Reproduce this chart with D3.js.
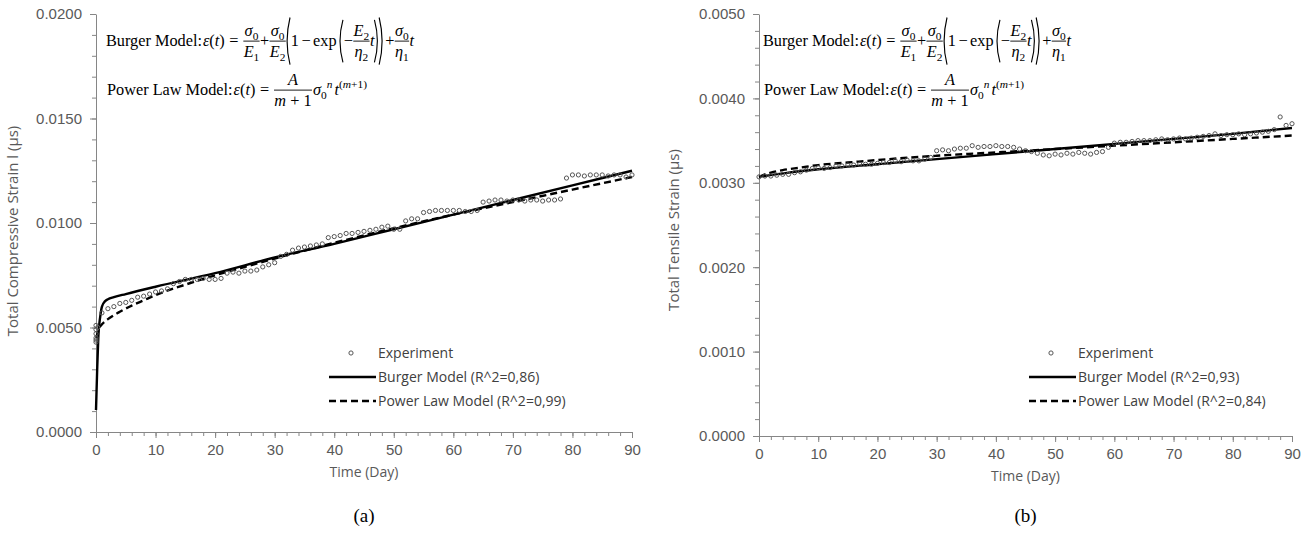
<!DOCTYPE html>
<html>
<head>
<meta charset="utf-8">
<script src="https://cdn.jsdelivr.net/npm/d3@7"></script>
<style>
body { margin: 0; background: #fff; }
</style>
</head>
<body>
<svg id="chart" width="1301" height="535"></svg>
<script>
// ---- data (strain values) ----
let xTicks = [0, 10, 20, 30, 40, 50, 60, 70, 80, 90];
let yTicksA = [0, 0.005, 0.010, 0.015, 0.020];
let yTicksB = [0, 0.001, 0.002, 0.003, 0.004, 0.005];

let expDaysA = [0, 0, 0, 0, 0, 0, 0.3,
  1, 2, 3, 4, 5, 6, 7, 8, 9, 10, 11, 12, 13, 14, 15, 16, 17, 18, 19, 20,
  21, 22, 23, 24, 25, 26, 27, 28, 29, 30, 31, 32, 33, 34, 35, 36, 37, 38, 39, 40,
  41, 42, 43, 44, 45, 46, 47, 48, 49, 50, 51, 52, 53, 54, 55, 56, 57, 58, 59, 60,
  61, 62, 63, 64, 65, 66, 67, 68, 69, 70, 71, 72, 73, 74, 75, 76, 77, 78, 79, 80,
  81, 82, 83, 84, 85, 86, 87, 88, 89, 90];
let expValsA = [0.00430, 0.00450, 0.00470, 0.00490, 0.00510, 0.00440, 0.00500,
  0.00570, 0.00590, 0.00600, 0.00615, 0.00620, 0.00630, 0.00645, 0.00650, 0.00660, 0.00670,
  0.00675, 0.00685, 0.00710, 0.00720, 0.00730, 0.00730, 0.00730, 0.00735, 0.00730, 0.00730,
  0.00735, 0.00760, 0.00765, 0.00760, 0.00770, 0.00770, 0.00775, 0.00790, 0.00800, 0.00810,
  0.00840, 0.00850, 0.00870, 0.00880, 0.00885, 0.00890, 0.00895, 0.00900, 0.00930, 0.00935,
  0.00940, 0.00950, 0.00950, 0.00955, 0.00960, 0.00965, 0.00970, 0.00980, 0.00985, 0.00970,
  0.00970, 0.01010, 0.01020, 0.01020, 0.01050, 0.01055, 0.01060, 0.01060, 0.01060, 0.01060,
  0.01060, 0.01055, 0.01055, 0.01060, 0.01100, 0.01105, 0.01110, 0.01110, 0.01105, 0.01110,
  0.01110, 0.01105, 0.01110, 0.01110, 0.01105, 0.01110, 0.01110, 0.01115, 0.01215, 0.01230,
  0.01230, 0.01225, 0.01230, 0.01230, 0.01230, 0.01225, 0.01230, 0.01230, 0.01220, 0.01230];

let burgerDaysA = [0, 0.2, 0.4, 0.7, 1, 1.5, 2, 3, 5, 10, 20, 30, 40, 50, 60, 70, 80, 90];
let burgerValsA = [0.00105, 0.00300, 0.00460, 0.00550, 0.00600, 0.00625, 0.00635, 0.00645, 0.00660,
  0.00695, 0.00760, 0.00835, 0.00900, 0.00970, 0.01040, 0.01110, 0.01180, 0.01250];

let powerDaysA = [0.05, 0.5, 1, 2, 4, 6, 8, 10, 15, 20, 25, 30, 40, 50, 60, 70, 80, 90];
let powerValsA = [0.00450, 0.00495, 0.00515, 0.00540, 0.00575, 0.00605, 0.00630, 0.00655, 0.00705,
  0.00750, 0.00790, 0.00830, 0.00905, 0.00975, 0.01040, 0.01100, 0.01160, 0.01220];

let expDaysB = [0, 1, 2, 3, 4, 5, 6, 7, 8, 9, 10, 11, 12, 13, 14, 15, 16, 17, 18, 19, 20,
  21, 22, 23, 24, 25, 26, 27, 28, 29, 30, 31, 32, 33, 34, 35, 36, 37, 38, 39, 40,
  41, 42, 43, 44, 45, 46, 47, 48, 49, 50, 51, 52, 53, 54, 55, 56, 57, 58, 59, 60,
  61, 62, 63, 64, 65, 66, 67, 68, 69, 70, 71, 72, 73, 74, 75, 76, 77, 78, 79, 80,
  81, 82, 83, 84, 85, 86, 87, 88, 89, 90];
let expValsB = [0.00307, 0.00308, 0.00308, 0.00309, 0.00310, 0.00310, 0.00312, 0.00313, 0.00315, 0.00317, 0.00318,
  0.00317, 0.00318, 0.00320, 0.00320, 0.00321, 0.00321, 0.00322, 0.00322, 0.00322, 0.00323,
  0.00324, 0.00324, 0.00326, 0.00325, 0.00327, 0.00326, 0.00326, 0.00328, 0.00330, 0.00338,
  0.00339, 0.00338, 0.00340, 0.00341, 0.00341, 0.00344, 0.00342, 0.00343, 0.00343, 0.00344,
  0.00343, 0.00343, 0.00342, 0.00340, 0.00338, 0.00337, 0.00335, 0.00333, 0.00332, 0.00334,
  0.00333, 0.00335, 0.00334, 0.00336, 0.00335, 0.00334, 0.00336, 0.00337, 0.00342, 0.00347,
  0.00348, 0.00348, 0.00349, 0.00350, 0.00350, 0.00350, 0.00351, 0.00352, 0.00351, 0.00352,
  0.00353, 0.00352, 0.00353, 0.00354, 0.00355, 0.00356, 0.00358, 0.00356, 0.00357, 0.00357,
  0.00358, 0.00357, 0.00358, 0.00359, 0.00360, 0.00361, 0.00363, 0.00378, 0.00368, 0.00370];

let burgerDaysB = [0, 5, 10, 20, 30, 40, 50, 60, 70, 80, 90];
let burgerValsB = [0.00307, 0.00312, 0.00316, 0.00322, 0.00328, 0.00334, 0.00340, 0.00346, 0.00352, 0.00358, 0.00365];

let powerDaysB = [0, 1, 2, 4, 7, 10, 15, 20, 30, 40, 50, 60, 70, 80, 90];
let powerValsB = [0.00307, 0.00310, 0.00312, 0.00315, 0.00318, 0.00321, 0.00324, 0.00327,
  0.00332, 0.00336, 0.00340, 0.00344, 0.00348, 0.00352, 0.00356];

let legendA = ["Experiment", "Burger Model (R^2=0,86)", "Power Law Model (R^2=0,99)"];
let legendB = ["Experiment", "Burger Model (R^2=0,93)", "Power Law Model (R^2=0,84)"];

// ---- drawing ----
const svg = d3.select("#chart");
const AXIS = "#868686", LABEL = "#595959";
const SANS = '"Liberation Sans", Arial, sans-serif';
const TITLE = '"Open Sans", sans-serif';
const SERIF = '"Liberation Serif", "Times New Roman", serif';

function zip(a, b) { return a.map((d, i) => [d, b[i]]); }

function drawPanel(p) {
  const x = d3.scaleLinear().domain([0, 90]).range([p.x0, p.x1]);
  const y = d3.scaleLinear().domain([0, p.yMax]).range([p.yb, p.yt]);
  const g = svg.append("g");

  // minor ticks
  g.append("g").attr("transform", `translate(0,${p.yb})`)
    .call(d3.axisBottom(x).tickValues(d3.range(0, 91, 2)).tickSize(4).tickFormat(""))
    .call(a => a.select(".domain").remove());
  g.append("g").attr("transform", `translate(${p.x0},0)`)
    .call(d3.axisLeft(y).tickValues(d3.range(0, p.yMax + 1e-9, p.yMinor)).tickSize(4).tickFormat(""))
    .call(a => a.select(".domain").remove());

  const xa = g.append("g").attr("transform", `translate(0,${p.yb})`)
    .call(d3.axisBottom(x).tickValues(xTicks).tickSize(6).tickSizeOuter(0).tickPadding(6));
  const ya = g.append("g").attr("transform", `translate(${p.x0},0)`)
    .call(d3.axisLeft(y).tickValues(p.yTicks).tickSize(6).tickSizeOuter(0).tickPadding(8)
      .tickFormat(d3.format(".4f")));
  [xa, ya].forEach(a => {
    a.attr("font-family", SANS).attr("font-size", 15);
    a.selectAll("text").attr("fill", LABEL);
  });
  g.selectAll(".domain, .tick line").attr("stroke", AXIS);

  // axis titles
  g.append("text").attr("x", (p.x0 + p.x1) / 2).attr("y", p.yb + 45)
    .attr("text-anchor", "middle").attr("font-family", TITLE).attr("font-size", 14)
    .attr("fill", LABEL).text("Time (Day)");
  g.append("text").attr("transform", `translate(${p.ytx},${p.yty}) rotate(-90)`)
    .attr("text-anchor", "middle").attr("font-family", TITLE).attr("font-size", 15)
    .attr("fill", LABEL).text(p.yTitle);
  g.append("text").attr("x", (p.x0 + p.x1) / 2).attr("y", 522)
    .attr("text-anchor", "middle").attr("font-family", SERIF).attr("font-size", 19)
    .attr("fill", "#000").text(p.tag);

  // series
  const line = d3.line().x(d => x(d[0])).y(d => y(d[1])).curve(d3.curveMonotoneX);
  g.append("path").datum(zip(p.powerD, p.powerV)).attr("d", line)
    .attr("fill", "none").attr("stroke", "#000").attr("stroke-width", 2.4).attr("stroke-dasharray", "7,4");
  g.append("path").datum(zip(p.burgerD, p.burgerV)).attr("d", line)
    .attr("fill", "none").attr("stroke", "#000").attr("stroke-width", 2.4);
  g.append("g").selectAll("circle").data(zip(p.expD, p.expV)).join("circle")
    .attr("cx", d => x(d[0])).attr("cy", d => y(d[1])).attr("r", 2.1)
    .attr("fill", "none").attr("stroke", "#555").attr("stroke-width", 1);

  // legend
  const lg = g.append("g").attr("font-family", TITLE).attr("font-size", 14).attr("fill", "#404040");
  p.legend.forEach((t, i) => {
    const ly = p.ly + i * 24;
    lg.append("text").attr("x", p.lx).attr("y", ly + 5).text(t);
    if (i === 0) {
      lg.append("circle").attr("cx", p.lx - 27).attr("cy", ly).attr("r", 2.1)
        .attr("fill", "none").attr("stroke", "#555");
    } else {
      lg.append("line").attr("x1", p.lx - 49).attr("x2", p.lx - 2).attr("y1", ly).attr("y2", ly)
        .attr("stroke", "#000").attr("stroke-width", 2.4)
        .attr("stroke-dasharray", i === 2 ? "7,4" : null);
    }
  });
}

drawPanel({x0: 96, x1: 632, yb: 432, yt: 14, yMax: 0.02, yMinor: 0.001, yTicks: yTicksA,
  yTitle: "Total Compressive Strain l  (\u00b5s)", ytx: 18, yty: 231, tag: "(a)",
  expD: expDaysA, expV: expValsA, burgerD: burgerDaysA, burgerV: burgerValsA,
  powerD: powerDaysA, powerV: powerValsA, legend: legendA, lx: 378, ly: 353});
drawPanel({x0: 759, x1: 1292, yb: 436, yt: 14, yMax: 0.005, yMinor: 0.0002, yTicks: yTicksB,
  yTitle: "Total Tensile Strain (\u00b5s)", ytx: 679, yty: 230, tag: "(b)",
  expD: expDaysB, expV: expValsB, burgerD: burgerDaysB, burgerV: burgerValsB,
  powerD: powerDaysB, powerV: powerValsB, legend: legendB, lx: 1078, ly: 353});

// ---- equations ----
function run(g, x, y, parts, fs) {
  const t = g.append("text").attr("x", x).attr("y", y)
    .attr("font-family", SERIF).attr("font-size", fs).attr("fill", "#000");
  let shift = 0;
  parts.forEach(p => {
    const s = t.append("tspan").text(p[0]);
    const f = p[1] || "";
    if (f.includes("i")) s.attr("font-style", "italic");
    let target = 0;
    if (f.includes("b")) { target = fs * 0.25; s.attr("font-size", fs * 0.7); }
    if (f.includes("p")) { target = -fs * 0.42; s.attr("font-size", fs * 0.7); }
    s.attr("dy", target - shift);
    shift = target;
  });
  return t.node().getComputedTextLength();
}

function frac(g, x, y, num, den, fs) {
  const axis = y - fs * 0.3;
  const gn = g.append("g"), gd = g.append("g");
  const wn = run(gn, 0, axis - fs * 0.3, num, fs);
  const wd = run(gd, 0, axis + fs * 1.0, den, fs);
  const w = Math.max(wn, wd) + fs * 0.08;
  gn.attr("transform", `translate(${x + (w - wn) / 2},0)`);
  gd.attr("transform", `translate(${x + (w - wd) / 2},0)`);
  g.append("line").attr("x1", x + fs * 0.02).attr("x2", x + w - fs * 0.02)
    .attr("y1", axis).attr("y2", axis).attr("stroke", "#000").attr("stroke-width", fs * 0.055);
  return w;
}

function paren(g, x, y, fs, h, open) {
  const axis = y - fs * 0.3, w = fs * 0.24;
  const top = axis - h / 2, bot = axis + h / 2;
  const d = open
    ? `M${x + w},${top} Q${x - w * 0.5},${axis} ${x + w},${bot}`
    : `M${x},${top} Q${x + w * 1.5},${axis} ${x},${bot}`;
  g.append("path").attr("d", d).attr("fill", "none").attr("stroke", "#000").attr("stroke-width", fs * 0.07);
  return w + fs * 0.05;
}

function layout(g, fs, ops) {
  let cx = 0;
  ops.forEach(op => {
    if (op.gap) cx += op.gap * fs;
    else if (op.frac) cx += frac(g, cx, 0, op.frac[0], op.frac[1], fs);
    else if (op.paren) cx += paren(g, cx, 0, fs, op.h * fs, op.paren === "(");
    else cx += run(g, cx, 0, op.run, fs);
  });
  return cx;
}

const sig0 = [["σ", "i"], ["0", "b"]];
const eps = {run: [["ε", "i"], ["("], ["t", "i"], [")"]]};
const burgerOps = [
  {run: [["Burger Model:"]]}, {gap: 0.05}, eps, {gap: 0.28}, {run: [["="]]}, {gap: 0.28},
  {frac: [sig0, [["E", "i"], ["1", "b"]]]}, {run: [["+"]]},
  {frac: [sig0, [["E", "i"], ["2", "b"]]]}, {paren: "(", h: 2.9},
  {run: [["1"]]}, {gap: 0.15}, {run: [["\u2212"]]}, {gap: 0.15}, {run: [["exp"]]},
  {gap: 0.15}, {paren: "(", h: 2.6}, {run: [["\u2212"]]},
  {frac: [[["E", "i"], ["2", "b"]], [["η", "i"], ["2", "b"]]]}, {run: [["t", "i"]]},
  {paren: ")", h: 2.6}, {paren: ")", h: 2.9}, {gap: 0.08}, {run: [["+"]]},
  {frac: [sig0, [["η", "i"], ["1", "b"]]]}, {run: [["t", "i"]]}
];
const powerOps = [
  {run: [["Power Law Model:"]]}, {gap: 0.05}, eps, {gap: 0.28}, {run: [["="]]}, {gap: 0.28},
  {frac: [[["A", "i"]], [["m", "i"], [" + 1"]]]}, {gap: 0.05},
  {run: [["σ", "i"], ["0", "b"], ["n", "ip"]]}, {gap: 0.12},
  {run: [["t", "i"], ["(", "p"], ["m", "ip"], ["+1)", "p"]]}
];

function equation(ops, x0, yb, s) {
  const g = svg.append("g");
  layout(g, 16, ops);
  g.attr("transform", `translate(${x0},${yb}) scale(${s})`);
}
// fit the burger equation to its measured width, reuse the scale for the others
const probe = svg.append("g");
const natural = layout(probe, 16, burgerOps);
probe.remove();
const sc = 308 / natural;
equation(burgerOps, 106, 46, sc);
equation(powerOps, 107, 95, sc);
equation(burgerOps, 763, 46, sc);
equation(powerOps, 764, 95, sc);
</script>
</body>
</html>
